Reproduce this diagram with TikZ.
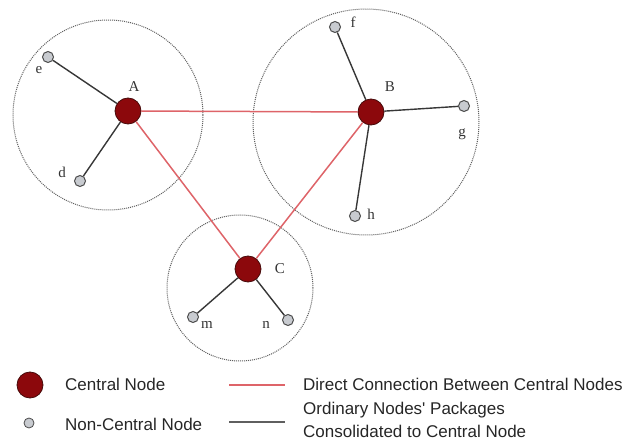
\documentclass[tikz,border=0pt]{standalone}
\usepackage{fontspec}
\setmainfont{Liberation Serif}
\newfontfamily\legfont{Liberation Sans}
\definecolor{cred}{RGB}{140,8,12}
\definecolor{cedge}{RGB}{70,10,10}
\definecolor{lred}{RGB}{222,100,105}
\definecolor{ngray}{RGB}{200,203,208}
\definecolor{spoke}{RGB}{55,55,55}
\definecolor{ring}{RGB}{95,95,95}
\tikzset{
  central/.style={circle,fill=cred,draw=cedge,line width=0.8pt,minimum size=26pt,inner sep=0pt},
  leaf/.style={circle,fill=ngray,draw=spoke!90,line width=1pt,minimum size=11pt,inner sep=0pt},
  ringc/.style={circle,draw=ring,line width=1pt,densely dotted,inner sep=0pt},
  redlink/.style={draw=lred,line width=1.5pt},
  spokelink/.style={draw=spoke,line width=1.4pt},
  lab/.style={font=\fontsize{15}{15}\selectfont,inner sep=0pt,text=black!80},
  legtext/.style={font=\legfont\fontsize{17}{20}\selectfont,inner sep=0pt,anchor=west,align=left,text=black!85}
}
\begin{document}
\begin{tikzpicture}[x=1pt,y=-1pt]
\useasboundingbox (0,0) rectangle (625,441);
% rings
\node[ringc,minimum size=190pt] (ringA) at (108,115) {};
\node[ringc,minimum size=226pt] (ringB) at (366,122) {};
\node[ringc,minimum size=146pt] (ringC) at (240,288) {};
% central nodes
\node[central] (A) at (128,111) {};
\node[central] (B) at (371,112) {};
\node[central] (C) at (248,269) {};
% leaves
\node[leaf] (e) at (48,57) {};
\node[leaf] (d) at (80,181) {};
\node[leaf] (f) at (335,27) {};
\node[leaf] (g) at (464,106) {};
\node[leaf] (h) at (355,216) {};
\node[leaf] (m) at (193,317) {};
\node[leaf] (n) at (288,320) {};
% links
\path[redlink] (A) -- (B);
\path[redlink] (A) -- (C);
\path[redlink] (B) -- (C);
\path[spokelink] (A) -- (e);
\path[spokelink] (A) -- (d);
\path[spokelink] (B) -- (f);
\path[spokelink] (B) -- (g);
\path[spokelink] (B) -- (h);
\path[spokelink] (C) -- (m);
\path[spokelink] (C) -- (n);
% labels
\node[lab] (lA) at (134,87) {A};
\node[lab] (lB) at (390,87) {B};
\node[lab] (lC) at (280,269) {C};
\node[lab] (le) at (39,70) {e};
\node[lab] (ld) at (62,172) {d};
\node[lab] (lf) at (353,22) {f};
\node[lab] (lg) at (462,134) {g};
\node[lab] (lh) at (371,214) {h};
\node[lab] (lm) at (207,325) {m};
\node[lab] (ln) at (266,325) {n};
% legend
\node[central] (legC) at (30,385) {};
\node[leaf,minimum size=10pt,line width=0.8pt] (legN) at (29,423) {};
\node[legtext] (tC) at (65,384) {Central Node};
\node[legtext] (tN) at (65,424) {Non-Central Node};
\coordinate (r1) at (229,385);
\coordinate (r2) at (285,385);
\coordinate (b1) at (229,422);
\coordinate (b2) at (285,422);
\path[redlink] (r1) -- (r2);
\path[draw=spoke!80,line width=1.6pt] (b1) -- (b2);
\node[legtext] (tR) at (303,384) {Direct Connection Between Central Nodes};
\node[legtext] (tB1) at (303,410) {Ordinary Nodes\textquotesingle{} Packages};
\node[legtext] (tB2) at (303,431) {Consolidated to Central Node};
\end{tikzpicture}
\end{document}
